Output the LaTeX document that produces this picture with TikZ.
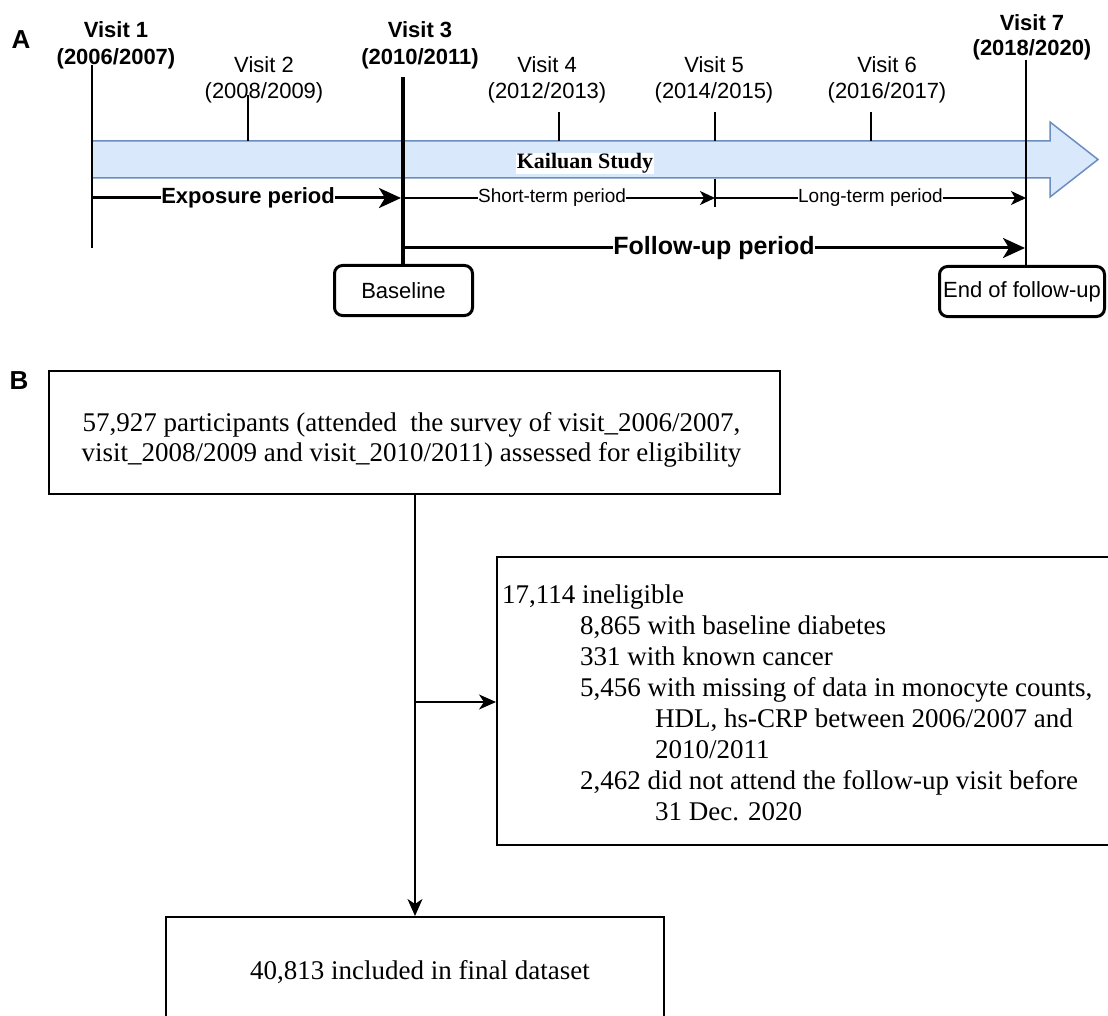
\documentclass[tikz,border=0pt]{standalone}
\usepackage{fontspec}
\setmainfont{Liberation Serif}
\newfontfamily\asans{Liberation Sans}
\usetikzlibrary{arrows.meta}
\definecolor{arrowfill}{HTML}{DAE8FC}
\definecolor{arrowline}{HTML}{6C8EBF}
\tikzset{
  sansn/.style={font=\asans\fontsize{22}{26}\selectfont, inner sep=0pt},
  sansb/.style={font=\asans\bfseries\fontsize{22}{26}\selectfont, inner sep=0pt},
  panellbl/.style={font=\asans\bfseries\fontsize{26}{30}\selectfont, inner sep=0pt},
  sertext/.style={font=\fontsize{27}{31}\selectfont, inner sep=0pt},
  tickln/.style={line width=2pt},
  thickln/.style={line width=3pt},
  bigtip/.style={-{Stealth[length=22pt,width=20pt,inset=6pt]}},
  smalltip/.style={-{Stealth[length=15pt,width=14pt,inset=4pt]}},
  fltip/.style={-{Stealth[length=17pt,width=15pt,inset=5pt]}},
  lblbg/.style={fill=white, inner sep=1pt},
  rbox/.style={draw, line width=3pt, rounded corners=8pt, inner sep=0pt},
  flowbox/.style={draw, line width=2pt, inner sep=0pt}
}
\begin{document}
\begin{tikzpicture}[x=1pt,y=-1pt]
\useasboundingbox (0,0) rectangle (1108,1016);
\clip (0,0) rectangle (1108,1016);

% ---------------- Panel A ----------------
\node[panellbl, anchor=base] (la) at (21,49) {A};

% visit labels
\node[sansb, anchor=base] (v1a) at (116,38) {Visit 1};
\node[sansb, anchor=base] (v1b) at (116,65) {(2006/2007)};
\node[sansn, anchor=base] (v2a) at (264,73) {Visit 2};
\node[sansn, anchor=base] (v2b) at (264,99) {(2008/2009)};
\node[sansb, anchor=base] (v3a) at (420,38) {Visit 3};
\node[sansb, anchor=base] (v3b) at (420,65) {(2010/2011)};
\node[sansn, anchor=base] (v4a) at (547,73) {Visit 4};
\node[sansn, anchor=base] (v4b) at (547,99) {(2012/2013)};
\node[sansn, anchor=base] (v5a) at (714,73) {Visit 5};
\node[sansn, anchor=base] (v5b) at (714,99) {(2014/2015)};
\node[sansn, anchor=base] (v6a) at (887,73) {Visit 6};
\node[sansn, anchor=base] (v6b) at (887,99) {(2016/2017)};
\node[sansb, anchor=base] (v7a) at (1032,31) {Visit 7};
\node[sansb, anchor=base] (v7b) at (1032,56) {(2018/2020)};

% block arrow (study)
\draw[arrowline, fill=arrowfill, line width=1.5pt]
  (92,141) -- (1050,141) -- (1050,122) -- (1098,159.5) -- (1050,197) -- (1050,178) -- (92,178) -- cycle;
\node[lblbg, inner sep=0.5pt, font=\bfseries\fontsize{22}{24}\selectfont, anchor=base] (kai) at (585,169) {Kailuan Study};

% boxes
\node[rbox, sansn, minimum width=138pt, minimum height=50pt] (base) at (403.5,290.5) {Baseline};
\node[rbox, sansn, minimum width=165pt, minimum height=50pt] (endb) at (1022,291.5) {End of follow-up};

% coordinates for the time lines
\coordinate (t1a) at (92,65);   \coordinate (t1b) at (92,248);
\coordinate (t2a) at (247.5,95); \coordinate (t2b) at (247.5,141);
\coordinate (t3a) at (403,77);
\coordinate (t4a) at (559,112);  \coordinate (t4b) at (559,141);
\coordinate (t5a) at (715,112);  \coordinate (t5b) at (715,141);
\coordinate (t5c) at (715,179);  \coordinate (t5d) at (715,207);
\coordinate (t6a) at (870.5,112); \coordinate (t6b) at (870.5,141);
\coordinate (t7a) at (1026,60);  \coordinate (t7b) at (1026,265);

\draw[tickln] (t1a) -- (t1b);
\draw[tickln] (t2a) -- (t2b);
\draw[line width=4pt] (t3a) -- (base.north -| t3a);
\draw[tickln] (t4a) -- (t4b);
\draw[tickln] (t5a) -- (t5b);
\draw[tickln] (t5c) -- (t5d);
\draw[tickln] (t6a) -- (t6b);
\draw[tickln] (t7a) -- (t7b);

% period arrows
\coordinate (e1) at (92,198);   \coordinate (e2) at (401,198);
\coordinate (s1) at (403,198);  \coordinate (s2) at (715,198);
\coordinate (l1) at (715,198);  \coordinate (l2) at (1026,198);
\coordinate (f1) at (403,248);  \coordinate (f2) at (1025,248);

\draw[thickln, bigtip] (e1) -- node[lblbg, sansb, pos=0.505] (lexp) {Exposure period} (e2);
\draw[line width=1.5pt, smalltip] (s1) -- node[lblbg, sansn, font=\asans\fontsize{19}{22}\selectfont, pos=0.478] (lshort) {Short-term period} (s2);
\draw[line width=1.5pt, smalltip] (l1) -- node[lblbg, sansn, font=\asans\fontsize{19}{22}\selectfont, pos=0.5] (llong) {Long-term period} (l2);
\draw[thickln, bigtip] (f1) -- node[lblbg, sansb, font=\asans\bfseries\fontsize{25}{28}\selectfont, pos=0.5] (lfol) {Follow-up period} (f2);

% ---------------- Panel B ----------------
\node[panellbl, anchor=base] (lb) at (19,389) {B};

\node[flowbox, minimum width=731pt, minimum height=123pt] (b1) at (414.5,432.5) {};
\node[sertext, anchor=base] (b1l1) at (411.5,431) {57,927 participants (attended\ \ the survey of visit\_2006/2007,};
\node[sertext, anchor=base] (b1l2) at (411.5,461) {visit\_2008/2009 and visit\_2010/2011) assessed for eligibility};

\node[flowbox, minimum width=623pt, minimum height=288pt] (b2) at (808.5,701) {};
\node[sertext, anchor=base west] (r1) at (502,603) {17,114 ineligible};
\node[sertext, anchor=base west] (r2) at (580,634) {8,865 with baseline diabetes};
\node[sertext, anchor=base west] (r3) at (580,665) {331 with known cancer};
\node[sertext, anchor=base west] (r4) at (580,696) {5,456 with missing of data in monocyte counts,};
\node[sertext, anchor=base west] (r5) at (655,727) {HDL, hs-CRP between 2006/2007 and};
\node[sertext, anchor=base west] (r6) at (655,758) {2010/2011};
\node[sertext, anchor=base west] (r7) at (580,789) {2,462 did not attend the follow-up visit before};
\node[sertext, anchor=base west] (r8) at (655,820) {31 Dec. 2020};

\node[flowbox, minimum width=498pt, minimum height=120pt] (b3) at (415,977) {};
\node[sertext, anchor=base] (b3t) at (420,979) {40,813 included in final dataset};

\coordinate (trunk) at (415,495);
\coordinate (br) at (415,702);
\draw[line width=1.5pt, fltip] (trunk) -- (trunk |- b3.north);
\draw[line width=1.5pt, fltip] (br) -- (br -| b2.west);
\end{tikzpicture}
\end{document}
